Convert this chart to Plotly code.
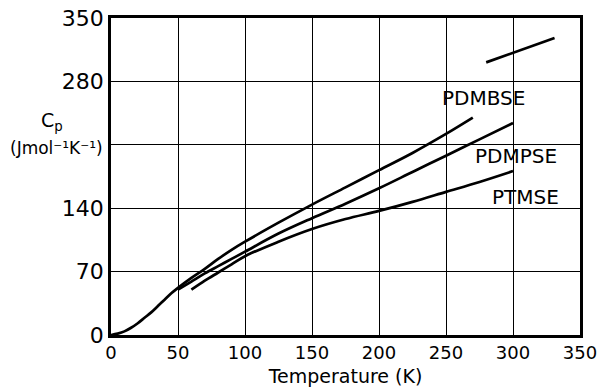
import plotly.graph_objects as go

# PDMBSE (includes the common low-temperature curve from 0 K)
pdmbse_T = [0, 5, 10, 15, 20, 25, 30, 35, 40, 45, 50, 60, 70, 80, 90, 100, 125, 150, 175, 200, 225, 250, 270]
pdmbse_Cp = [0, 1.5, 4, 8, 13, 19, 25, 32, 39, 46, 52, 63, 73, 84, 94, 103, 124, 144, 163, 182, 201, 222, 240]

pdmpse_T = [50, 60, 70, 80, 90, 100, 125, 150, 175, 200, 225, 250, 275, 300]
pdmpse_Cp = [50, 59, 68, 76, 84, 92, 112, 129, 145, 162, 180, 198, 216, 234]

ptmse_T = [60, 70, 80, 90, 100, 125, 150, 175, 200, 225, 250, 275, 300]
ptmse_Cp = [50, 60, 69, 78, 87, 103, 117, 128, 137, 147, 158, 169, 181]

upper_T = [280, 331]
upper_Cp = [301, 328]

labels = ["PDMBSE", "PDMPSE", "PTMSE"]
label_T = [278, 302, 309]
label_Cp = [262, 198, 152]

x_ticks = [0, 50, 100, 150, 200, 250, 300, 350]
y_ticks = [0, 70, 140, 210, 280, 350]
y_ticktext = ["0", "70", "140", "", "280", "350"]

FONT = "DejaVu Sans"
line_style = dict(color="black", width=2.7)

fig = go.Figure()
for T, C in [(pdmbse_T, pdmbse_Cp), (pdmpse_T, pdmpse_Cp), (ptmse_T, ptmse_Cp), (upper_T, upper_Cp)]:
    fig.add_trace(go.Scatter(x=T, y=C, mode="lines", line=dict(shape="spline", smoothing=1.0, **line_style),
                             showlegend=False, hoverinfo="skip"))

for name, t, c in zip(labels, label_T, label_Cp):
    fig.add_annotation(x=t, y=c, text=name, showarrow=False, xref="x", yref="y",
                       font=dict(family=FONT, size=20, color="black"))

fig.add_annotation(x=-0.125, y=0.675, xref="paper", yref="paper", xanchor="center", yanchor="middle",
                   text="C<sub>p</sub>", showarrow=False, font=dict(family=FONT, size=19, color="black"))
fig.add_annotation(x=-0.117, y=0.59, xref="paper", yref="paper", xanchor="center", yanchor="middle",
                   text="(Jmol⁻¹K⁻¹)", showarrow=False, font=dict(family=FONT, size=17, color="black"))

fig.update_layout(
    width=605, height=390,
    margin=dict(l=111, r=25, t=18, b=55, autoexpand=False),
    paper_bgcolor="white", plot_bgcolor="white",
    font=dict(family=FONT, color="black"),
)
fig.update_xaxes(range=[0, 350], tickvals=x_ticks, showgrid=True, gridcolor="black", gridwidth=1,
                 showline=True, linecolor="black", linewidth=2.5, mirror=True, zeroline=False,
                 ticks="", tickfont=dict(size=18), automargin=False,
                 title=dict(text="Temperature (K)", font=dict(size=19), standoff=8))
fig.update_yaxes(range=[0, 350], tickvals=y_ticks, ticktext=y_ticktext, showgrid=True, gridcolor="black",
                 gridwidth=1, showline=True, linecolor="black", linewidth=2.5, mirror=True, zeroline=False,
                 ticks="", tickfont=dict(size=22), automargin=False)

fig.write_html("out.html", config={"displayModeBar": False},
               post_script="document.body.style.margin='0px';document.body.style.overflow='hidden';")
